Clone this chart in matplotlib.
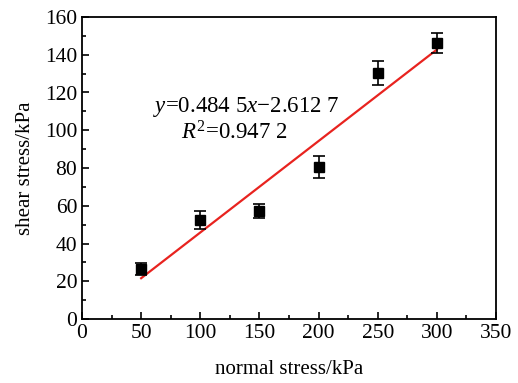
import matplotlib
matplotlib.use("Agg")
import matplotlib.pyplot as plt
from matplotlib.ticker import MultipleLocator

normal_stress = [50, 100, 150, 200, 250, 300]
shear_stress = [26.5, 52.5, 57.0, 80.5, 130.5, 146.0]
shear_err = [3.0, 4.6, 3.7, 5.6, 6.3, 5.3]

slope = 0.4845
intercept = -2.6127

plt.rcParams['font.family'] = ['Liberation Serif', 'DejaVu Serif']
plt.rcParams['mathtext.fontset'] = 'custom'
plt.rcParams['mathtext.rm'] = 'Liberation Serif'
plt.rcParams['mathtext.it'] = 'Liberation Serif:italic'

fig = plt.figure(figsize=(5.18, 3.83), dpi=100)
ax = fig.add_axes([82 / 518, 1 - 319 / 383, 414 / 518, 302 / 383])

fit_x = [normal_stress[0], normal_stress[-1]]
fit_y = [slope * v + intercept for v in fit_x]
ax.plot(fit_x, fit_y, color='#e8231f', lw=1.6, zorder=2)

ax.errorbar(normal_stress, shear_stress, yerr=shear_err, fmt='s', color='black',
            ms=7, capsize=4, elinewidth=1.2, capthick=1.2, zorder=3)

ax.set_xlim(0, 350)
ax.set_ylim(0, 160)
ax.xaxis.set_major_locator(MultipleLocator(50))
ax.xaxis.set_minor_locator(MultipleLocator(25))
ax.yaxis.set_major_locator(MultipleLocator(20))
ax.yaxis.set_minor_locator(MultipleLocator(10))
ax.tick_params(which='both', direction='in', top=False, right=False, labelsize=15.5, width=1.2)
ax.tick_params(which='major', length=5)
ax.tick_params(which='minor', length=3)
for s in ax.spines.values():
    s.set_linewidth(1.3)

ax.set_xlabel('normal stress/kPa', fontsize=15, labelpad=12)
ax.set_ylabel('shear stress/kPa', fontsize=15, labelpad=7)

ax.text(60, 112.5, r'$y$=0.484 5$x$$-$2.612 7', fontsize=16.5, va='center')
ax.text(84, 98.5, r'$R^{2}$=0.947 2', fontsize=16.5, va='center')

fig.savefig('out.png', dpi=100)
